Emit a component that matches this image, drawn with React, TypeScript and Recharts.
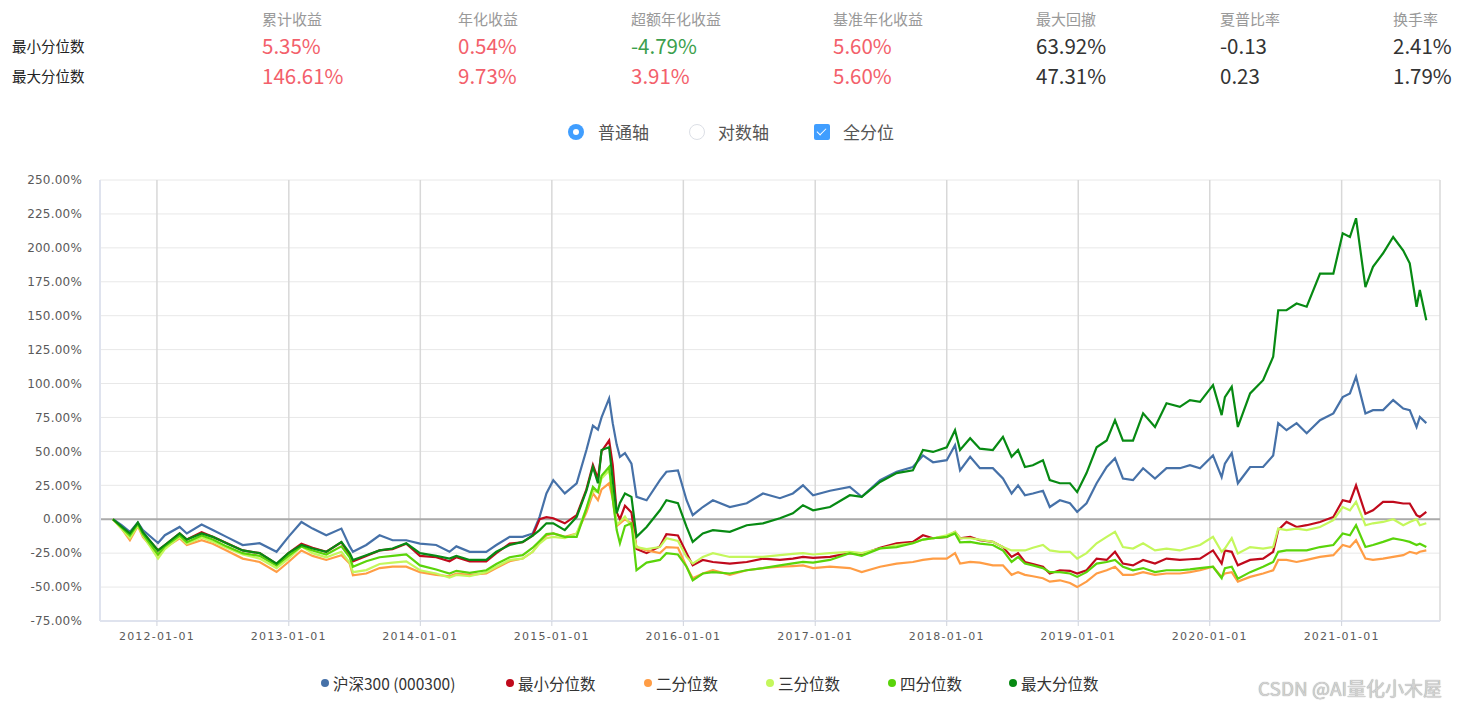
import React from "react";
import { CartesianGrid, Line, LineChart, ReferenceLine, XAxis, YAxis } from "recharts";

// sample dates
const dates = [
	"2011-09-01", "2011-09-25", "2011-10-18", "2011-11-09", "2011-11-23", "2012-01-04", "2012-01-23", "2012-03-04", "2012-03-24",
	"2012-05-04", "2012-06-04", "2012-07-12", "2012-08-26", "2012-10-12", "2012-11-28", "2012-12-31", "2013-02-05", "2013-03-08",
	"2013-04-15", "2013-05-27", "2013-06-19", "2013-06-28", "2013-08-04", "2013-09-10", "2013-10-16", "2013-11-23", "2013-12-31",
	"2014-02-14", "2014-03-23", "2014-04-11", "2014-05-18", "2014-07-03", "2014-07-31", "2014-09-06", "2014-10-12", "2014-11-09",
	"2014-11-28", "2014-12-17", "2015-01-05", "2015-02-06", "2015-03-11", "2015-04-07", "2015-04-25", "2015-05-09", "2015-05-19",
	"2015-06-09", "2015-06-19", "2015-06-30", "2015-07-09", "2015-07-23", "2015-08-10", "2015-08-24", "2015-09-21", "2015-10-28",
	"2015-11-15", "2015-12-17", "2016-01-10", "2016-01-27", "2016-02-24",
	"2016-03-23", "2016-05-09", "2016-06-25", "2016-08-09", "2016-09-25", "2016-10-31", "2016-11-28", "2016-12-26", "2017-02-11",
	"2017-04-07", "2017-05-10", "2017-06-30", "2017-08-15", "2017-09-29", "2017-10-27", "2017-11-24", "2018-01-01", "2018-01-24",
	"2018-02-07", "2018-03-07", "2018-04-03", "2018-05-09", "2018-06-06", "2018-06-30", "2018-07-18",
	"2018-08-06", "2018-08-28", "2018-09-25", "2018-10-14", "2018-11-11", "2018-12-09", "2018-12-29", "2019-01-24", "2019-02-21",
	"2019-03-21", "2019-04-13", "2019-05-05", "2019-06-02", "2019-06-30", "2019-08-02", "2019-09-03", "2019-10-10", "2019-11-07",
	"2019-12-05", "2020-01-10", "2020-02-03",
	"2020-02-12", "2020-03-02", "2020-03-19", "2020-04-22", "2020-05-28", "2020-06-25", "2020-07-09", "2020-08-01", "2020-08-29",
	"2020-09-26", "2020-11-02", "2020-12-09", "2021-01-04", "2021-01-24", "2021-02-10", "2021-03-08", "2021-03-29", "2021-04-26",
	"2021-05-24", "2021-06-21", "2021-07-09", "2021-07-28", "2021-08-06", "2021-08-24",
];

// cumulative return, %
const hs300 = [
	0, -4.4, -9.3, -2.4, -8, -17.5, -11.8, -5.7, -10.5, -3.9, -8, -13, -19, -17.7, -24, -13, -2, -6.9, -11.8, -6.9, -20, -24, -19, -11.8, -15.5, -15.5, -18,
	-19, -24, -20, -24, -24, -19, -13, -13, -10.5, 1.7, 19, 28.8, 19, 26.5, 51, 69, 66, 75, 89, 70.8, 55, 46, 48.7, 41, 16.5, 14, 28.8, 35, 36, 14, 3, 9,
	14, 9, 11.8, 19, 15.5, 19, 25, 17.7, 21, 23.8, 16.5, 28.8, 35, 38.5, 47, 42, 43.5, 54.6, 36, 46, 37.6, 37.6, 30, 19, 25,
	17.7, 19, 21, 9, 14, 11.8, 5.4, 11.8, 26.5, 38.5, 45, 30, 28.8, 37.6, 30, 37.6, 37.6, 39.8, 37.6, 47, 31,
	41, 48.7, 26.5, 38.5, 38.5, 47, 70.8, 65.6, 70.8, 63.4, 73, 78, 90, 92.7, 105, 78, 80.4, 80.4, 87.8, 81.6, 80.4, 68, 75.4, 70.8,
];
const q1 = [
	0, -6, -11, -3, -10, -23, -19, -10.5, -15, -9.5, -13, -17.5, -23, -25, -33, -25, -18, -21, -24, -17, -27, -31, -27, -23, -22, -18, -27,
	-28, -31, -28, -31, -31, -25, -18, -17, -12, 0, 1.5, 0.7, -3, 3, 22, 40, 30, 50, 58, 40, 5, 0, 10, 5, -22, -25, -20, -11, -12, -25, -34, -30,
	-31.5, -32.7, -31.5, -29, -30, -29, -27.8, -28.5, -27.8, -25, -26, -21, -17.7, -16.7, -11.8, -14, -13, -9.3, -14, -13, -15.5, -16.7, -20.5, -27.8, -25,
	-31.5, -33, -35, -40, -37.6, -38, -40, -37.6, -29, -30, -24, -32.7, -34, -30, -32.7, -29, -30, -29.5, -29, -23, -32.7,
	-23, -24, -34, -30, -29, -24, -8, -2, -5.7, -4.4, -2, 1.7, 14, 12.8, 25, 4, 6.6, 12.8, 12.8, 11.6, 11.6, 3, 1.7, 5.4,
];
const q2 = [
	0, -7, -15.5, -5, -13, -26.5, -21, -14, -19, -15.5, -18, -23, -29, -31.5, -38.9, -31.5, -23, -27, -30, -26.5, -32.7, -41.3, -40, -36, -35, -35, -39,
	-41, -42, -40, -41, -40, -36, -31, -29, -24, -17, -12, -10.5, -13, -10.5, 5, 19, 14, 22, 26.5, 15, -5, -3, 0, -3, -20.5, -23, -25, -20.5, -21, -35, -43.5, -40,
	-37.6, -41, -37.6, -36, -35, -34.5, -34, -36, -35, -36, -39, -35, -32.7, -31.5, -30, -29, -29, -25, -32.7, -31.5, -32, -34, -34, -41, -39,
	-41, -42, -43.5, -46, -45, -47, -50, -46, -40, -37.6, -35, -41, -41, -39, -41, -40, -40, -39, -37.6, -35, -42.5,
	-40, -39, -46, -42.5, -40, -37.6, -30, -30, -31.5, -30, -27.8, -26.5, -19, -20.5, -15.5, -29, -30, -29, -27.8, -26.5, -24, -25.3, -24, -23,
];
const q3 = [
	0, -7, -14, -4.5, -12, -29, -22, -13, -18, -13.5, -16.5, -21, -26, -29, -36, -29, -20, -25, -28, -24, -32, -39, -37.5, -33, -32, -31, -37.6,
	-40, -43, -41, -42, -39, -35, -30, -29, -24, -18, -14, -13, -14, -10.5, 8, 21, 20, 30, 36, 20, -4, -2, 2, -5.7, -20.5, -22, -20.5, -14, -16, -27.8, -32.7, -27.8,
	-25, -27.8, -27.8, -27.8, -26.5, -25.5, -25, -26, -25, -24, -25, -21.6, -19, -17.7, -15, -14, -11.8, -9.3, -14, -14, -15, -16.7, -20.5, -23, -23,
	-23, -21, -19, -23, -24, -24, -29, -25, -17.7, -13, -9.3, -20.5, -21.6, -17.7, -23, -21.6, -23, -21, -19, -13, -24,
	-21.6, -14, -25.3, -20.5, -21.6, -20.5, -6.9, -8, -6.9, -8, -5.7, -0.7, 9, 6.6, 12.8, -4.4, -3, -2, 0, -4.4, -2, 0, -4.4, -3,
];
const q4 = [
	0, -6, -12, -3.5, -11, -26, -20, -12, -17, -12, -15, -20, -25, -27, -34, -27, -20, -23, -26, -20, -28, -35, -31, -28, -27, -26, -34,
	-37, -40, -38, -39.5, -37.6, -33, -28, -26.5, -21, -16, -11, -10.5, -13, -13, 8, 23.8, 20, 32, 38.5, 15, -8, -17.7, -5, -3, -37.6, -32, -30, -25, -26, -35, -45, -40,
	-39, -40, -37.6, -36, -34, -32.5, -31.5, -32, -30, -25, -27, -21.5, -20.5, -17.7, -15, -14, -13, -10.5, -17, -16.7, -18, -19, -23, -31.5, -27.8,
	-32.7, -34, -36, -39, -39, -40, -42.5, -39, -32.7, -31.5, -30, -35, -37.6, -36, -39, -37.6, -37.6, -37, -36, -35, -43.5,
	-36, -35, -43.8, -39, -35, -31.5, -24, -23, -23, -23, -20.5, -19, -10.5, -11.8, -4.4, -20.5, -19, -16.7, -14.2, -15.5, -16.7, -19, -18, -20.5,
];
const q5 = [
	0, -5.5, -10.5, -2.4, -9.5, -23, -19, -10.5, -15, -10.5, -13, -17.7, -23, -25, -32.7, -25, -19, -21.6, -24, -16.7, -25, -30, -26.5, -23, -21.6, -17.7, -25,
	-27, -29, -27, -30, -30, -24, -19, -16.7, -12, -8, -3, -3, -8, 1.7, 21, 38.5, 26.5, 51, 53, 28.8, 4.4, 12, 19, 16.5, -13, -5.7, 6.6, 14, 11.8, -5.7, -16.7, -10.5,
	-8, -9.3, -4.4, -3, 0.7, 4.4, 10.3, 6.6, 9, 17.7, 16.5, 27.5, 34, 36, 51, 49.6, 53, 65.6, 51, 59.7, 52, 51, 60.7, 46, 51,
	38.5, 39.8, 43.5, 28.8, 26.5, 26.5, 20, 34, 53, 58, 73, 58, 58, 78, 68, 85.5, 82.8, 87.8, 86.5, 98.8, 76.7,
	90, 97.6, 68, 92.7, 102.5, 119.7, 154, 154, 159, 156.6, 181, 181, 210.7, 208, 221.8, 171, 186, 196, 208, 198, 188.6, 156.6, 168.9, 146.6,
];

const xTickLabels = ["2012-01-01", "2013-01-01", "2014-01-01", "2015-01-01", "2016-01-01", "2017-01-01", "2018-01-01", "2019-01-01", "2020-01-01", "2021-01-01"];
const yTicks = [-75, -50, -25, 0, 25, 50, 75, 100, 125, 150, 175, 200, 225, 250];

const statNames = ["累计收益", "年化收益", "超额年化收益", "基准年化收益", "最大回撤", "夏普比率", "换手率"];
const minRow = ["5.35%", "0.54%", "-4.79%", "5.60%", "63.92%", "-0.13", "2.41%"];
const maxRow = ["146.61%", "9.73%", "3.91%", "5.60%", "47.31%", "0.23", "1.79%"];

const series = [
	{ key: "hs300", name: "沪深300 (000300)", color: "#4671a8", values: hs300 },
	{ key: "q1", name: "最小分位数", color: "#c00a1c", values: q1 },
	{ key: "q2", name: "二分位数", color: "#ff9d45", values: q2 },
	{ key: "q3", name: "三分位数", color: "#c4f75c", values: q3 },
	{ key: "q4", name: "四分位数", color: "#5ad40a", values: q4 },
	{ key: "q5", name: "最大分位数", color: "#078a13", values: q5 },
];

const data = dates.map((d, i) => {
	const row: Record<string, number> = { t: Date.parse(d) };
	series.forEach((s) => (row[s.key] = s.values[i]));
	return row;
});

const font = '"Noto Sans CJK SC", "Noto Sans", sans-serif';
const colX = [262, 458, 631, 833, 1036, 1220, 1393];
const legendX = [321, 506, 644, 766, 888, 1009];

function valueColor(col: number, v: string) {
	if (col > 3) return "#333";
	return v.startsWith("-") ? "#3c9f4d" : "#f3606b";
}

function Header() {
	const rows = [
		{ label: "最小分位数", vals: minRow, y: 33 },
		{ label: "最大分位数", vals: maxRow, y: 63 },
	];
	return (
		<>
			{statNames.map((n, i) => (
				<div key={n} style={{ position: "absolute", left: colX[i], top: 8, fontSize: 15, color: "#999", lineHeight: "22px" }}>{n}</div>
			))}
			{rows.map((r) => (
				<React.Fragment key={r.label}>
					<div style={{ position: "absolute", left: 12, top: r.y + 2, fontSize: 14.5, color: "#222", lineHeight: "22px" }}>{r.label}</div>
					{r.vals.map((v, i) => (
						<div key={i} style={{ position: "absolute", left: colX[i], top: r.y - 1, fontSize: 20.5, color: valueColor(i, v), lineHeight: "26px" }}>{v}</div>
					))}
				</React.Fragment>
			))}
		</>
	);
}

function Controls() {
	return (
		<div style={{ position: "absolute", top: 120, left: 0, height: 24, fontSize: 17, color: "#555" }}>
			<div style={{ position: "absolute", left: 568, top: 4, width: 16, height: 16, borderRadius: 8, background: "#409eff", boxSizing: "border-box" }}>
				<div style={{ position: "absolute", left: 5, top: 5, width: 6, height: 6, borderRadius: 3, background: "#fff" }} />
			</div>
			<div style={{ position: "absolute", left: 598, top: 0, lineHeight: "24px", whiteSpace: "nowrap" }}>普通轴</div>
			<div style={{ position: "absolute", left: 689, top: 4, width: 16, height: 16, borderRadius: 8, border: "1px solid #dcdfe6", boxSizing: "border-box" }} />
			<div style={{ position: "absolute", left: 718, top: 0, lineHeight: "24px", whiteSpace: "nowrap" }}>对数轴</div>
			<div style={{ position: "absolute", left: 814, top: 4, width: 16, height: 16, borderRadius: 2, background: "#409eff" }}>
				<div style={{ position: "absolute", left: 5, top: 2, width: 4, height: 8, borderRight: "1.5px solid #fff", borderBottom: "1.5px solid #fff", transform: "rotate(45deg)" }} />
			</div>
			<div style={{ position: "absolute", left: 843, top: 0, lineHeight: "24px", whiteSpace: "nowrap" }}>全分位</div>
		</div>
	);
}

function Legend() {
	return (
		<>
			{series.map((s, i) => (
				<div key={s.key} style={{ position: "absolute", left: legendX[i], top: 672, display: "flex", alignItems: "center", fontSize: 15.5, color: "#333", whiteSpace: "nowrap", lineHeight: "22px" }}>
					<span style={{ width: 8, height: 8, borderRadius: 4, background: s.color, marginRight: 4, display: "inline-block" }} />
					{s.name}
				</div>
			))}
		</>
	);
}

export default function App() {
	return (
		<div style={{ position: "absolute", left: 0, top: 0, width: 1461, height: 707, background: "#fff", fontFamily: font, overflow: "hidden" }}>
			<Header />
			<Controls />
			<div style={{ position: "absolute", left: 0, top: 160 }}>
				<LineChart width={1461} height={510} data={data} margin={{ top: 20, right: 21, left: 0, bottom: 19 }}>
					<CartesianGrid horizontal={true} vertical={false} stroke="#e8e8e8" />
					<CartesianGrid horizontal={false} vertical={true} stroke="#d8d8d8" strokeWidth={1.5} />
					<XAxis
						dataKey="t"
						type="number"
						scale="time"
						domain={[Date.parse("2011-07-27"), Date.parse("2021-10-01")]}
						ticks={xTickLabels.map((d) => Date.parse(d))}
						tickFormatter={(v: number) => new Date(v).toISOString().slice(0, 10)}
						height={30}
						axisLine={{ stroke: "#dfe3ee", strokeWidth: 2 }}
						tickLine={{ stroke: "#cfd3dc" }}
						tickSize={5}
						tickMargin={6}
						tick={{ fill: "#5a5a5a", fontSize: 11, fontFamily: "DejaVu Sans", letterSpacing: 1.2 }}
					/>
					<YAxis
						type="number"
						domain={[-75, 250]}
						ticks={yTicks}
						width={100}
						tickFormatter={(v: number) => v.toFixed(2) + "%"}
						axisLine={{ stroke: "#dfe3ee", strokeWidth: 2 }}
						tickLine={false}
						tickMargin={12}
						tick={{ fill: "#5a5a5a", fontSize: 12, fontFamily: "DejaVu Sans", letterSpacing: 0.2 }}
					/>
					<ReferenceLine y={0} stroke="#aaa" strokeWidth={2} />
					{series.map((s) => (
						<Line key={s.key} type="linear" dataKey={s.key} name={s.name} stroke={s.color} strokeWidth={2.2} dot={false} isAnimationActive={false} />
					))}
				</LineChart>
			</div>
			<Legend />
			<div style={{ position: "absolute", left: 1258, top: 674, fontSize: 19, color: "#d2d2d2", whiteSpace: "nowrap", textShadow: "0 0 1px #888" }}>CSDN @AI量化小木屋</div>
		</div>
	);
}
